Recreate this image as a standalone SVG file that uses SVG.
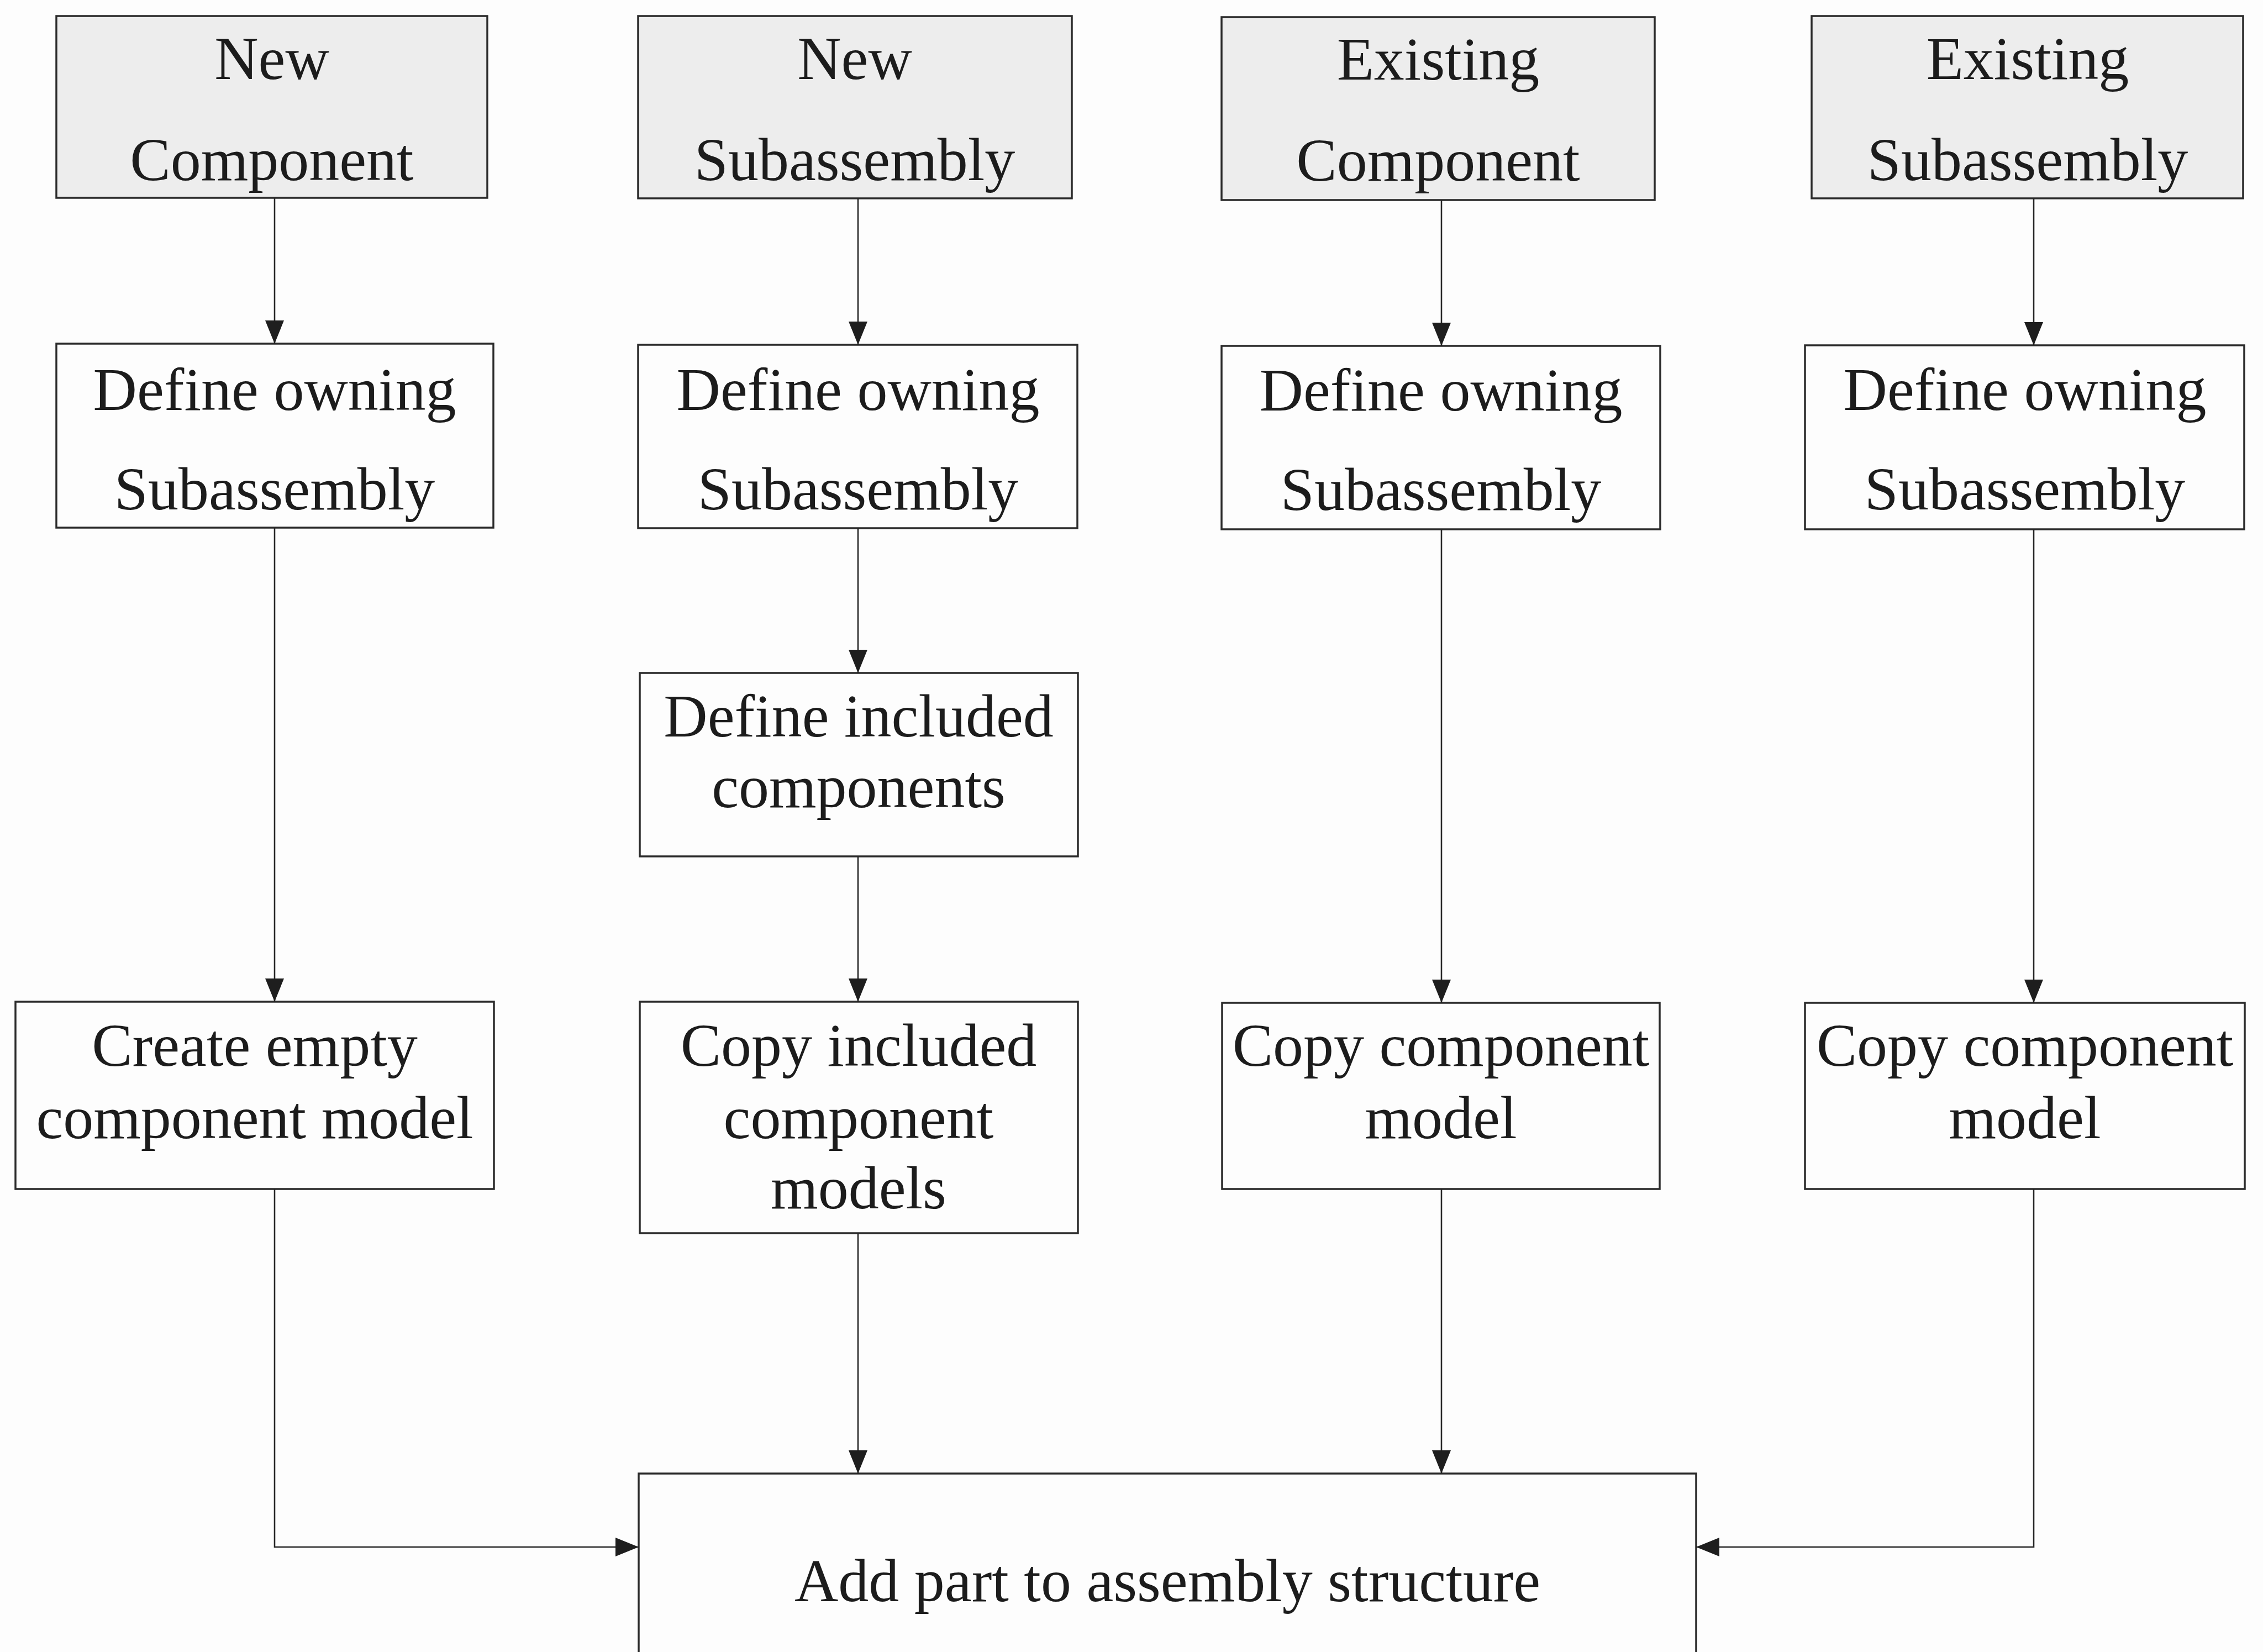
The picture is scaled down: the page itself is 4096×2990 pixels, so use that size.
<svg xmlns="http://www.w3.org/2000/svg" width="4096" height="2990" viewBox="0 0 4096 2990">
  <style>
    .box { fill: #fdfdfd; stroke: #2b2b2b; stroke-width: 3.5; }
    .start { fill: #ededed; }
    .lbl { font-family: "Liberation Serif", "Times New Roman", serif; font-size: 110px; fill: #1c1c1c; text-anchor: middle; }
    .edge { fill: none; stroke: #262626; stroke-width: 2.6; marker-end: url(#arrow); }
  </style>
  <defs>
    <marker id="arrow" markerUnits="userSpaceOnUse" markerWidth="42" markerHeight="34" refX="42" refY="17" orient="auto">
      <path d="M0,0 L42,17 L0,34 Z" fill="#1e1e1e"/>
    </marker>
  </defs>

  <rect width="4096" height="2990" fill="#fdfdfd"/>

  <!-- column 1: new component -->
  <g id="new-component">
    <rect class="box start" x="102" y="29" width="780" height="329"/>
    <text class="lbl" x="492" y="143">New</text>
    <text class="lbl" x="492" y="326">Component</text>
  </g>
  <g id="define-owning-1">
    <rect class="box" x="102" y="622" width="791" height="333"/>
    <text class="lbl" x="497" y="742">Define owning</text>
    <text class="lbl" x="497" y="922">Subassembly</text>
  </g>
  <g id="create-empty">
    <rect class="box" x="28" y="1813" width="866" height="339"/>
    <text class="lbl" x="461" y="1929">Create empty</text>
    <text class="lbl" x="461" y="2060">component model</text>
  </g>

  <!-- column 2: new subassembly -->
  <g id="new-subassembly">
    <rect class="box start" x="1155" y="29" width="785" height="330"/>
    <text class="lbl" x="1547" y="143">New</text>
    <text class="lbl" x="1547" y="326">Subassembly</text>
  </g>
  <g id="define-owning-2">
    <rect class="box" x="1155" y="624" width="795" height="332"/>
    <text class="lbl" x="1553" y="742">Define owning</text>
    <text class="lbl" x="1553" y="922">Subassembly</text>
  </g>
  <g id="define-included">
    <rect class="box" x="1158" y="1218" width="793" height="332"/>
    <text class="lbl" x="1554" y="1333">Define included</text>
    <text class="lbl" x="1554" y="1461">components</text>
  </g>
  <g id="copy-included">
    <rect class="box" x="1158" y="1813" width="793" height="419"/>
    <text class="lbl" x="1554" y="1929">Copy included</text>
    <text class="lbl" x="1554" y="2060">component</text>
    <text class="lbl" x="1554" y="2187">models</text>
  </g>

  <!-- column 3: existing component -->
  <g id="existing-component">
    <rect class="box start" x="2211" y="31" width="784" height="331"/>
    <text class="lbl" x="2603" y="144">Existing</text>
    <text class="lbl" x="2603" y="327">Component</text>
  </g>
  <g id="define-owning-3">
    <rect class="box" x="2211" y="626" width="794" height="332"/>
    <text class="lbl" x="2608" y="743">Define owning</text>
    <text class="lbl" x="2608" y="923">Subassembly</text>
  </g>
  <g id="copy-component-3">
    <rect class="box" x="2212" y="1815" width="792" height="337"/>
    <text class="lbl" x="2608" y="1929">Copy component</text>
    <text class="lbl" x="2608" y="2060">model</text>
  </g>

  <!-- column 4: existing subassembly -->
  <g id="existing-subassembly">
    <rect class="box start" x="3279" y="29" width="781" height="330"/>
    <text class="lbl" x="3670" y="143">Existing</text>
    <text class="lbl" x="3670" y="326">Subassembly</text>
  </g>
  <g id="define-owning-4">
    <rect class="box" x="3267" y="625" width="795" height="333"/>
    <text class="lbl" x="3665" y="742">Define owning</text>
    <text class="lbl" x="3665" y="922">Subassembly</text>
  </g>
  <g id="copy-component-4">
    <rect class="box" x="3267" y="1815" width="796" height="337"/>
    <text class="lbl" x="3665" y="1929">Copy component</text>
    <text class="lbl" x="3665" y="2060">model</text>
  </g>

  <!-- common sink -->
  <g id="add-part">
    <rect class="box" x="1156" y="2667" width="1914" height="400"/>
    <text class="lbl" x="2113" y="2898">Add part to assembly structure</text>
  </g>

  <g id="connectors">
    <path class="edge" d="M497,358 V622"/>
    <path class="edge" d="M497,955 V1813"/>
    <path class="edge" d="M497,2152 V2800 H1156"/>

    <path class="edge" d="M1553,359 V624"/>
    <path class="edge" d="M1553,956 V1218"/>
    <path class="edge" d="M1553,1550 V1813"/>
    <path class="edge" d="M1553,2232 V2667"/>

    <path class="edge" d="M2609,362 V626"/>
    <path class="edge" d="M2609,958 V1815"/>
    <path class="edge" d="M2609,2152 V2667"/>

    <path class="edge" d="M3681,359 V625"/>
    <path class="edge" d="M3681,958 V1815"/>
    <path class="edge" d="M3681,2152 V2800 H3070"/>
  </g>
</svg>
